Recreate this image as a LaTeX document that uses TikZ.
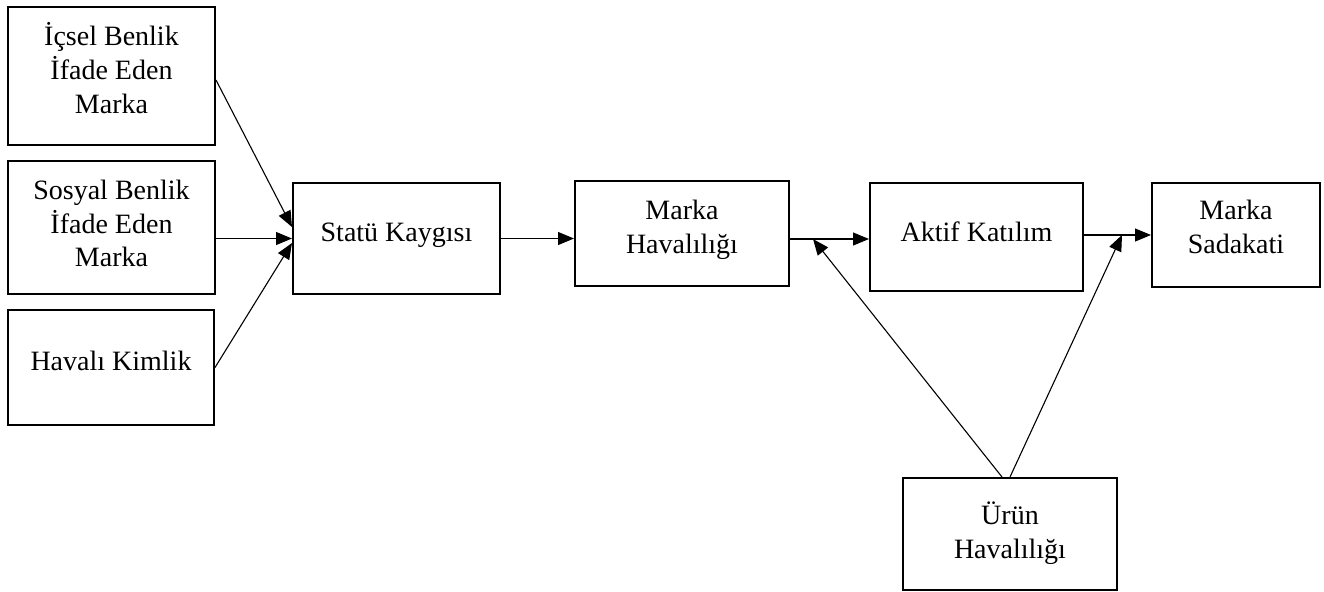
\documentclass[tikz,border=0pt]{standalone}
\usepackage{fontspec}
\setmainfont{Liberation Serif}
\usetikzlibrary{arrows.meta}
\begin{document}
\begin{tikzpicture}[
  box/.style={draw, line width=1pt, inner sep=0pt},
  lab/.style={align=center, inner sep=0pt, font=\fontsize{14pt}{16.8pt}\selectfont},
  conn/.style={line width=0.55pt, -{Triangle[length=8pt,width=6.5pt]}}
]
\useasboundingbox (0,0) rectangle (662pt,-295.5pt);
\node[box, minimum width=103.5pt, minimum height=69pt,
  label={[lab,yshift=4pt]center:İçsel Benlik\\İfade Eden\\Marka}] (ic) at (55.75pt,-38pt) {};
\node[box, minimum width=103.5pt, minimum height=66.5pt,
  label={[lab,yshift=2pt]center:Sosyal Benlik\\İfade Eden\\Marka}] (so) at (55.75pt,-113.75pt) {};
\node[box, minimum width=103pt, minimum height=57.5pt,
  label={[lab,yshift=3.5pt]center:Havalı Kimlik}] (hk) at (55.5pt,-183.75pt) {};
\node[box, minimum width=103.5pt, minimum height=55.5pt,
  label={[lab,yshift=1.5pt]center:Statü Kaygısı}] (st) at (198.25pt,-119.25pt) {};
\node[box, minimum width=107pt, minimum height=52.5pt,
  label={[lab,yshift=2pt]center:Marka\\Havalılığı}] (mh) at (341pt,-116.75pt) {};
\node[box, minimum width=106.5pt, minimum height=54pt,
  label={[lab,yshift=2.5pt]center:Aktif Katılım}] (ak) at (488.25pt,-118.5pt) {};
\node[box, minimum width=84pt, minimum height=52pt,
  label={[lab,yshift=4pt]center:Marka\\Sadakati}] (ms) at (618pt,-117.5pt) {};
\node[box, minimum width=107pt, minimum height=56pt,
  label={[lab,yshift=0.5pt]center:Ürün\\Havalılığı}] (ur) at (505pt,-267pt) {};
\coordinate (j1) at (406.5pt,-119.5pt);
\coordinate (j2) at (561pt,-117.5pt);
\draw[conn] ([yshift=-2pt]ic.east) -- ([yshift=5.75pt]st.west);
\draw[conn] (so.east |- st.west) -- (st.west);
\draw[conn] (hk.east) -- ([yshift=-2.25pt]st.west);
\draw[conn] (st.east) -- (st.east -| mh.west);
\draw[conn] (mh.east |- j1) -- (ak.west |- j1);
\draw[conn] (ak.east |- ms.west) -- (ms.west);
\draw[conn] ([xshift=-4pt]ur.north) -- (j1);
\draw[conn] (ur.north) -- (j2);
\end{tikzpicture}
\end{document}
